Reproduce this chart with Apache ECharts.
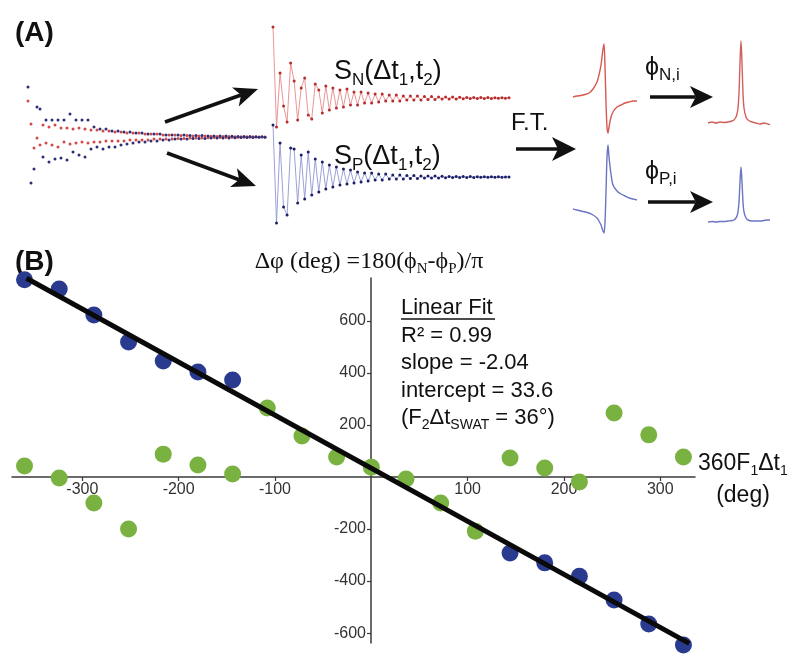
<!DOCTYPE html>
<html>
<head>
<meta charset="utf-8">
<script src="https://cdn.jsdelivr.net/npm/echarts@6/dist/echarts.min.js"></script>
<style>
  html, body { margin: 0; background: #fff; }
  #chart { width: 800px; height: 658px; }
</style>
</head>
<body>
<div id="chart"></div>
<script>
// ---- panel B: phase difference vs 360F1Δt1 (deg) ----
const blueX = [-360, -324, -288, -252, -216, -180, -144, 144, 180, 216, 252, 288, 324];
const blueY = [758, 723, 623, 519, 446, 404, 373, -292, -330, -381, -473, -565, -646];
const greenX = [-360, -324, -288, -252, -216, -180, -144, -108, -72, -36, 0, 36, 72, 108, 144, 180, 216, 252, 288, 324];
const greenY = [42, -4, -100, -200, 88, 46, 12, 265, 158, 77, 38, -8, -100, -208, 73, 35, -19, 246, 162, 77];
const fitSlope = -2.04;
const fitIntercept = 33.6;
const fitX = [-358, 330];
const xTicks = [-300, -200, -100, 100, 200, 300];
const yTicks = [-600, -400, -200, 200, 400, 600];

// ---- panel A: raw interleaved points, the two FIDs, spectra ----
const rawBlue = [50, -46, -32, 30, 28, -20, 17, -25, 17, -22, 17, -21, 17, -23, 23, -15, 17, -18, 17, -20, 17, -12, 10, -10, 8, -12, 8, -10, 6, -10, 6, -8, 5, -7, 5, -6, 4, -5, 4, -5, 3, -4, 3, -4, 3, -3, 2, -3, 2, -2, 2, -2, 2, -2, 1.5, -1.5, 1.5, -1.5, 1.5, -1.5, 1, -1, 1, -1, 1, -1, 1, -1, 0.8, -0.8, 0.6, -0.6, 0.5, -0.5, 0.5, -0.5, 0.3, -0.3, 0.2, -0.2];
const rawRed = [36, 13, -11, -1, -8, 12, -6, 10, -8, 12, -10, 9, -5, 9, -7, 8, -6, 9, -5, 8, -6, 7, -5, 7, -5, 6, -4, 6, -4, 5, -4, 5, -4, 4, -3, 4, -3, 4, -3, 3, -3, 3, -2, 3, -2, 2, -2, 2, -2, 2, -1.5, 1.5, -1.5, 1.5, -1, 1, -1, 1, -1, 1, -0.8, 0.8, -0.6, 0.6, -0.5, 0.5, -0.4, 0.4, -0.3, 0.3, -0.3, 0.3, -0.2, 0.2, -0.2, 0.2, -0.1, 0.1, 0, 0];
const sigN = [71, -29, 25, -8, -24, 35, 17, -22, 10, 20, -17, -21, 14, 8, -15, 12, -12, 10, -10, 8, -9, 9, -7, 6, -7, 6, -5, 5, -5, 4, -4, 4, -3, 3, -3, 3, -3, 2, -2, 2, -2, 2, -2, 1.5, -1.5, 1.5, -1.5, 1, -1, 1, -1, 1, -1, 0.8, -0.8, 0.6, -0.6, 0.5, -0.5, 0.5, -0.5, 0.4, -0.4, 0.3, -0.3, 0.3, -0.3, 0.2];
const sigP = [52, -46, 34, -30, -38, 29, 28, -26, 22, -22, 25, -18, 18, -15, 15, -12, 12, -10, 10, -8, 8, -7, 7, -6, 5, -5, 4, -4, 4, -3, 3, -3, 3, -2, 2, -2, 2, -2, 1.5, -1.5, 1.5, -1.5, 1, -1, 1, -1, 1, -1, 0.8, -0.8, 0.6, -0.6, 0.5, -0.5, 0.5, -0.5, 0.4, -0.4, 0.3, -0.3, 0.3, -0.3, 0.2, -0.2, 0.2, -0.2, 0.1, -0.1];
const dispX = [0, 4, 8, 12, 16, 20, 24, 26, 28, 29, 30, 31, 32, 33, 34, 35, 36, 38, 40, 44, 48, 52, 56, 60, 64];
const dispN = [0, 1, 1.5, 2.5, 4, 8, 15, 22, 32, 40, 48, 53, 30, -5, -30, -36, -30, -20, -15, -10, -8, -6, -5, -4, -4];
const dispP = [-7, -8, -9, -10, -11, -13, -16, -19, -23, -26, -29, -31, -20, 10, 45, 57, 45, 28, 17, 11, 8, 6, 4, 3, 2];
const absX = [0, 4, 8, 12, 16, 20, 24, 26, 28, 29, 30, 31, 32, 33, 34, 35, 36, 38, 40, 44, 48, 52, 56, 60, 62];
const absN = [0, 1, 0, 1, 0.5, 1, 2, 3, 6, 9, 15, 30, 60, 82, 60, 30, 15, 6, 3, 1, 0, -1, 0, -1, -2];
const absP = [0, 0.5, 0, 0.5, 0.5, 1, 1.5, 2, 4, 6, 10, 20, 40, 55, 40, 20, 10, 4, 2, 1, 1, 1, 1.5, 2, 2];

const sans = '"Liberation Sans", Arial, sans-serif';
const serif = '"Liberation Serif", "Times New Roman", serif';
const ink = "#111";

function indexed(arr) {
  return arr.map((v, i) => [i, v]);
}

function paired(xs, ys) {
  return xs.map((x, i) => [x, ys[i]]);
}

// rich text styles: m = main, s = subscript
function rich(size, sub, family) {
  return {
    m: { fontSize: size, fontFamily: family, fill: ink, lineHeight: size + 6, verticalAlign: "middle" },
    s: { fontSize: sub, fontFamily: family, fill: ink, lineHeight: Math.round(sub * 0.95), verticalAlign: "bottom" },
  };
}

function label(x, y, text, size, sub, family, align) {
  return {
    type: "text",
    x,
    y,
    z: 10,
    style: { text, rich: rich(size, sub, family || sans), align: align || "left", verticalAlign: "middle" },
  };
}

function arrow(x1, y1, x2, y2, len, half) {
  const dx = x2 - x1, dy = y2 - y1;
  const d = Math.hypot(dx, dy);
  const ux = dx / d, uy = dy / d;
  const nx = -uy, ny = ux;
  const bx = x2 - ux * len, by = y2 - uy * len;
  const notch = [x2 - ux * len * 0.75, y2 - uy * len * 0.75];
  return [
    { type: "line", z: 10, shape: { x1, y1, x2: notch[0], y2: notch[1] }, style: { stroke: ink, lineWidth: 3.5 } },
    {
      type: "polygon",
      z: 10,
      shape: { points: [[x2, y2], [bx + nx * half, by + ny * half], notch, [bx - nx * half, by - ny * half]] },
      style: { fill: ink },
    },
  ];
}

const grids = [
  { left: 28, top: 80, width: 237, height: 114 },
  { left: 273, top: 20, width: 236, height: 140 },
  { left: 273, top: 115, width: 236, height: 120 },
  { left: 573, top: 35, width: 64, height: 110 },
  { left: 573, top: 135, width: 64, height: 105 },
  { left: 708, top: 35, width: 62, height: 95 },
  { left: 708, top: 155, width: 62, height: 75 },
  { left: 12, top: 278, width: 683, height: 365 },
].map((g) => ({ ...g, containLabel: false, outerBoundsMode: "none" }));

const hiddenX = [
  [0, rawBlue.length - 1],
  [0, sigN.length - 1],
  [0, sigP.length - 1],
  [0, 64],
  [0, 64],
  [0, 62],
  [0, 62],
];
const hiddenY = [
  [-57, 57],
  [-62, 78],
  [-58, 62],
  [-48, 62],
  [-38, 67],
  [-7, 88],
  [-8, 67],
];

const axisColor = "#3a3a3a";
const xAxis = hiddenX.map((r, i) => ({ type: "value", gridIndex: i, min: r[0], max: r[1], show: false }));
const yAxis = hiddenY.map((r, i) => ({ type: "value", gridIndex: i, min: r[0], max: r[1], show: false }));

// crossing axes: shift them onto the zero lines with offsets
xAxis.push({
  type: "value",
  gridIndex: 7,
  min: -373,
  max: 336,
  position: "bottom",
  offset: -166,
  axisLine: { onZero: false, lineStyle: { color: axisColor, width: 1.5 } },
  axisTick: { customValues: xTicks, length: 4, lineStyle: { color: axisColor, width: 1.2 } },
  axisLabel: { customValues: xTicks, color: "#333", fontSize: 16, fontFamily: sans, margin: 5 },
  splitLine: { show: false },
});
yAxis.push({
  type: "value",
  gridIndex: 7,
  min: -638,
  max: 765,
  position: "left",
  offset: -359,
  axisLine: { onZero: false, lineStyle: { color: axisColor, width: 1.5 } },
  axisTick: { customValues: yTicks, length: 4, lineStyle: { color: axisColor, width: 1.2 } },
  axisLabel: { customValues: yTicks, color: "#333", fontSize: 16, fontFamily: sans, margin: 5 },
  splitLine: { show: false },
});

function fidSeries(idx, values, dot, line) {
  return {
    type: "line",
    xAxisIndex: idx,
    yAxisIndex: idx,
    data: indexed(values),
    symbol: "circle",
    symbolSize: 3,
    showAllSymbol: true,
    itemStyle: { color: dot },
    lineStyle: { color: line, width: 0.9 },
    animation: false,
  };
}

function specSeries(idx, xs, ys, color) {
  return {
    type: "line",
    xAxisIndex: idx,
    yAxisIndex: idx,
    data: paired(xs, ys),
    symbol: "none",
    smooth: 0.3,
    lineStyle: { color, width: 1.4 },
    animation: false,
  };
}

function dots(idx, data, size, color) {
  return {
    type: "scatter",
    xAxisIndex: idx,
    yAxisIndex: idx,
    data,
    symbolSize: size,
    itemStyle: { color, opacity: 1 },
    z: 3,
    clip: false,
    animation: false,
  };
}

const series = [
  dots(0, indexed(rawRed), 3, "#d04a4a"),
  dots(0, indexed(rawBlue), 3, "#2b2f78"),
  fidSeries(1, sigN, "#b82c2c", "#e68a8a"),
  fidSeries(2, sigP, "#1d1f66", "#9097d2"),
  specSeries(3, dispX, dispN, "#d8574f"),
  specSeries(4, dispX, dispP, "#6b74c2"),
  specSeries(5, absX, absN, "#d0605a"),
  specSeries(6, absX, absP, "#6b74c2"),
  dots(7, paired(greenX, greenY), 17, "#7ab241"),
  dots(7, paired(blueX, blueY), 17, "#2a3b8f"),
  {
    type: "line",
    xAxisIndex: 7,
    yAxisIndex: 7,
    data: fitX.map((x) => [x, fitIntercept + fitSlope * x]),
    symbol: "none",
    lineStyle: { color: "#0a0a0a", width: 5 },
    z: 5,
    clip: false,
    animation: false,
  },
];

const graphic = [
  { type: "text", x: 15, y: 33, style: { text: "(A)", font: "bold 28px " + sans, fill: ink, verticalAlign: "middle" } },
  { type: "text", x: 15, y: 262, style: { text: "(B)", font: "bold 28px " + sans, fill: ink, verticalAlign: "middle" } },
  label(334, 72, "{m|S}{s|N}{m|(Δt}{s|1}{m|,t}{s|2}{m|)}", 27, 17),
  label(334, 157, "{m|S}{s|P}{m|(Δt}{s|1}{m|,t}{s|2}{m|)}", 27, 17),
  label(511, 123, "{m|F.T.}", 24, 16),
  label(645, 68, "{m|ϕ}{s|N,i}", 25, 17),
  label(645, 172, "{m|ϕ}{s|P,i}", 25, 17),
  label(369, 262, "{m|Δφ (deg) =180(ϕ}{s|N}{m|-ϕ}{s|P}{m|)/π}", 24, 15, serif, "center"),
  label(401, 308, "{m|Linear Fit}", 22, 14),
  { type: "line", z: 10, shape: { x1: 401, y1: 319, x2: 495, y2: 319 }, style: { stroke: ink, lineWidth: 1.5 } },
  label(401, 336, "{m|R² = 0.99}", 22, 14),
  label(401, 363, "{m|slope = -2.04}", 22, 14),
  label(401, 391, "{m|intercept = 33.6}", 22, 14),
  label(401, 418, "{m|(F}{s|2}{m|Δt}{s|SWAT}{m| = 36°)}", 22, 14),
  label(698, 464, "{m|360F}{s|1}{m|Δt}{s|1}", 23, 14),
  label(743, 496, "{m|(deg)}", 23, 14, sans, "center"),
  ...arrow(165, 122, 258, 89, 24, 10),
  ...arrow(167, 153, 256, 186, 24, 10),
  ...arrow(516, 149, 576, 149, 24, 12),
  ...arrow(650, 97, 713, 97, 23, 11),
  ...arrow(648, 202, 713, 202, 23, 11),
];

const chart = echarts.init(document.getElementById("chart"));
chart.setOption({
  backgroundColor: "#fff",
  animation: false,
  grid: grids,
  xAxis,
  yAxis,
  series,
  graphic,
});
</script>
</body>
</html>
